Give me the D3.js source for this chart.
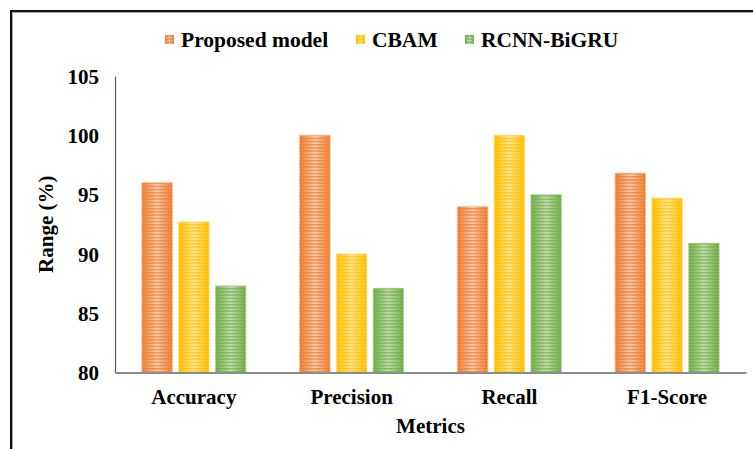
<!DOCTYPE html>
<html>
<head>
<meta charset="utf-8">
<script src="https://cdn.jsdelivr.net/npm/d3@7"></script>
<style>
  html, body { margin: 0; padding: 0; background: #fff; }
  svg { display: block; }
  text { font-family: "Liberation Serif", "Times New Roman", serif; font-weight: bold; fill: #000; }
</style>
</head>
<body>
<script>
// Metric categories, series names and percentages
const categories = ["Accuracy", "Precision", "Recall", "F1-Score"];
const seriesNames = ["Proposed model", "CBAM", "RCNN-BiGRU"];
const proposedModel = [96, 100, 94, 96.8];
const cbam = [92.7, 90, 100, 94.7];
const rcnnBiGru = [87.3, 87.1, 95, 90.9];
const yTicks = [80, 85, 90, 95, 100, 105];
const seriesColors = ["#ED7D31", "#FFC000", "#70AD47"];
const seriesLight = ["#F8CDB0", "#FFE89E", "#C6DFB5"];

const seriesValues = [proposedModel, cbam, rcnnBiGru];

const W = 753, H = 449;
const margin = { left: 115, right: 7, top: 76, bottom: 76 };

const svg = d3.select("body").append("svg").attr("width", W).attr("height", H);
const defs = svg.append("defs");

// Frame around the figure (runs off the right and bottom edges)
svg.append("rect").attr("x", 12.5).attr("y", 12.5).attr("width", 800).attr("height", 500)
  .attr("fill", "none").attr("stroke", "#aaa").attr("stroke-width", 1);
svg.append("rect").attr("x", 11).attr("y", 11).attr("width", 800).attr("height", 500)
  .attr("fill", "none").attr("stroke", "#111").attr("stroke-width", 2);

// Per-series fills: horizontal sheen gradient plus fine horizontal stripes
seriesColors.forEach((c, i) => {
  const g = defs.append("linearGradient").attr("id", "sheen" + i)
    .attr("x1", "0%").attr("x2", "100%").attr("y1", "0%").attr("y2", "0%");
  g.append("stop").attr("offset", "0%").attr("stop-color", c);
  g.append("stop").attr("offset", "50%").attr("stop-color", seriesLight[i]);
  g.append("stop").attr("offset", "100%").attr("stop-color", c);

  const p = defs.append("pattern").attr("id", "stripe" + i)
    .attr("patternUnits", "userSpaceOnUse").attr("width", 8).attr("height", 3.2);
  p.append("rect").attr("x", 0).attr("y", 0).attr("width", 8).attr("height", 1.4)
    .attr("fill", c).attr("fill-opacity", 0.75);
});

const x0 = d3.scaleBand().domain(categories).range([margin.left, W - margin.right]).paddingInner(0).paddingOuter(0);
const x1 = d3.scaleBand().domain(seriesNames).range([0, x0.bandwidth()]).paddingInner(0.17).paddingOuter(0.73);
const y = d3.scaleLinear().domain([80, 105]).range([H - margin.bottom - 0.5, margin.top]);

// Bars
const groups = svg.append("g").selectAll("g").data(categories).join("g")
  .attr("transform", d => `translate(${x0(d)},0)`);

groups.each(function(cat, ci) {
  const g = d3.select(this);
  seriesNames.forEach((s, si) => {
    const v = seriesValues[si][ci];
    const bx = x1(s), bw = x1.bandwidth(), by = y(v), bh = y(80) - y(v);
    g.append("rect").attr("x", bx).attr("y", by).attr("width", bw).attr("height", bh)
      .attr("fill", `url(#sheen${si})`).attr("stroke", seriesLight[si]).attr("stroke-width", 1);
    g.append("rect").attr("x", bx).attr("y", by).attr("width", bw).attr("height", bh)
      .attr("fill", `url(#stripe${si})`);
  });
});

// Y axis
const yAxis = svg.append("g").attr("transform", `translate(${margin.left},0)`)
  .call(d3.axisLeft(y).tickValues(yTicks).tickSize(0).tickPadding(16));
yAxis.select(".domain").attr("stroke", "#595959").attr("stroke-width", 1.2);
yAxis.selectAll(".tick text").style("font-size", "21px").attr("dy", "0.35em")
  .attr("font-family", null);

// X axis
const xAxis = svg.append("g").attr("transform", `translate(0,${y(80)})`)
  .call(d3.axisBottom(x0).tickSize(0).tickPadding(17));
xAxis.select(".domain").attr("stroke", "#8c8c8c").attr("stroke-width", 2.2);
xAxis.selectAll(".tick text").style("font-size", "21px").attr("font-family", null);

// Axis titles
svg.append("text").attr("x", x0.range()[0] + (x0.range()[1] - x0.range()[0]) / 2).attr("y", 433)
  .attr("text-anchor", "middle").style("font-size", "21px").text("Metrics");
svg.append("text").attr("transform", `translate(53,${(margin.top + y(80)) / 2}) rotate(-90)`)
  .attr("text-anchor", "middle").style("font-size", "21px").text("Range (%)");

// Legend
const legendX = [165, 356, 465];
const legend = svg.append("g");
seriesNames.forEach((s, i) => {
  legend.append("rect").attr("x", legendX[i]).attr("y", 35).attr("width", 9).attr("height", 9)
    .attr("fill", `url(#sheen${i})`);
  legend.append("rect").attr("x", legendX[i]).attr("y", 35).attr("width", 9).attr("height", 9)
    .attr("fill", `url(#stripe${i})`);
  legend.append("text").attr("x", legendX[i] + 16).attr("y", 47)
    .style("font-size", "21.5px").text(s);
});
</script>
</body>
</html>
